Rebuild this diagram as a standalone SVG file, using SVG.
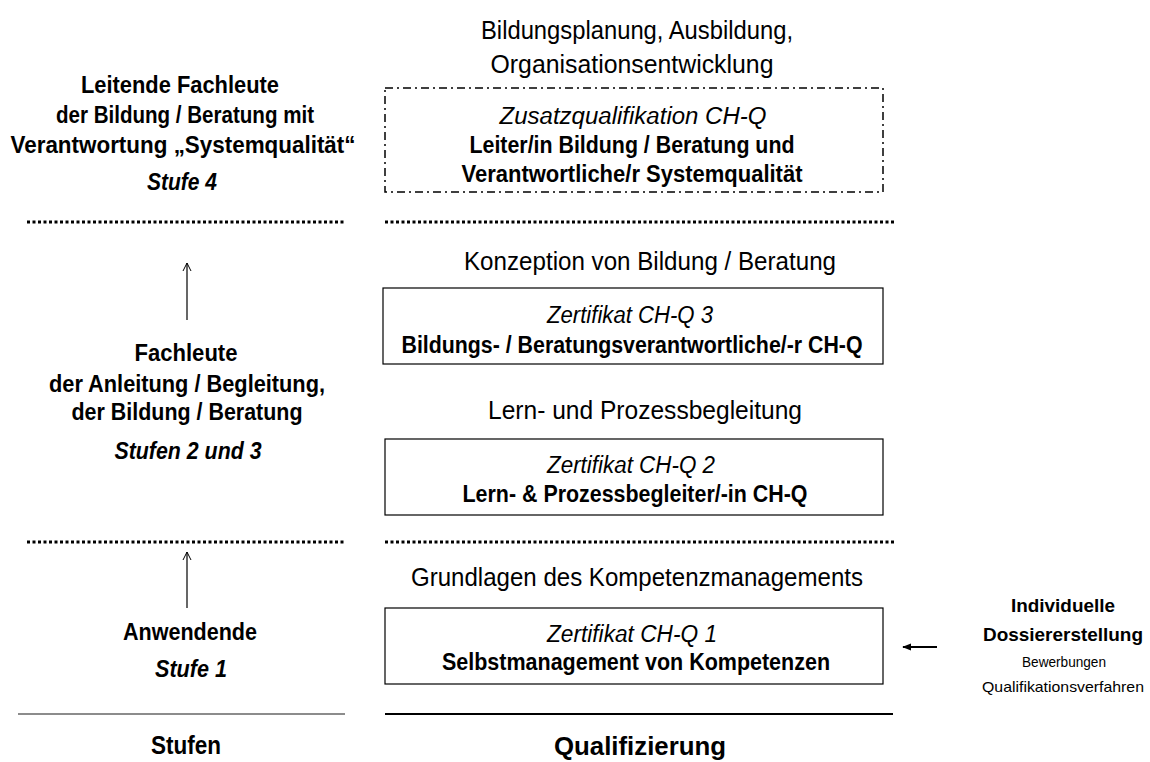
<svg xmlns="http://www.w3.org/2000/svg" width="1150" height="762" viewBox="0 0 1150 762">
<style>
text{font-family:"Liberation Sans",Arial,sans-serif;fill:#000;text-anchor:middle}
.b{font-weight:bold;font-size:23px}
.i{font-style:italic;font-size:23px}
.h{font-size:25px}
.r{font-weight:bold;font-size:19px}
.s{font-size:15px}
.box{fill:#fff;stroke:#000;stroke-width:1.2}
.dot{stroke:#000;stroke-width:3;stroke-dasharray:3 2.5;fill:none}
</style>
<defs>
<marker id="ah" viewBox="0 0 10 10" refX="9" refY="5" markerWidth="10" markerHeight="10" orient="auto" markerUnits="userSpaceOnUse">
<path d="M1 1 L9 5 L1 9" fill="none" stroke="#000" stroke-width="1"/>
</marker>
<marker id="ah2" viewBox="0 0 10 10" refX="9" refY="5" markerWidth="9" markerHeight="9" orient="auto" markerUnits="userSpaceOnUse">
<path d="M0 1 L10 5 L0 9 Z" fill="#000"/>
</marker>
</defs>
<g id="separators">
<line class="dot" x1="27" y1="222" x2="345" y2="222"/>
<line class="dot" x1="385" y1="222" x2="895" y2="222"/>
<line class="dot" x1="27" y1="542" x2="345" y2="542"/>
<line class="dot" x1="385" y1="542" x2="895" y2="542"/>
<line x1="18" y1="714" x2="345" y2="714" stroke="#666" stroke-width="1.5"/>
<line x1="385" y1="714" x2="893" y2="714" stroke="#000" stroke-width="2.2"/>
</g>
<g id="stufe4">
<text class="b" x="180" y="93" textLength="198" lengthAdjust="spacingAndGlyphs">Leitende  Fachleute</text>
<text class="b" x="185" y="123" textLength="258" lengthAdjust="spacingAndGlyphs">der Bildung / Beratung mit</text>
<text class="b" x="183" y="153" textLength="345" lengthAdjust="spacingAndGlyphs">Verantwortung „Systemqualität“</text>
<text class="b i" x="182" y="190" textLength="70" lengthAdjust="spacingAndGlyphs">Stufe 4</text>
</g>
<g id="stufe23">
<text class="b" x="186" y="361" textLength="103" lengthAdjust="spacingAndGlyphs">Fachleute</text>
<text class="b" x="187" y="392" textLength="276" lengthAdjust="spacingAndGlyphs">der Anleitung / Begleitung,</text>
<text class="b" x="187" y="420" textLength="231" lengthAdjust="spacingAndGlyphs">der Bildung / Beratung</text>
<text class="b i" x="188" y="459" textLength="147" lengthAdjust="spacingAndGlyphs">Stufen 2 und 3</text>
</g>
<g id="stufe1">
<text class="b" x="190" y="640" textLength="134" lengthAdjust="spacingAndGlyphs">Anwendende</text>
<text class="b i" x="191" y="677" textLength="72" lengthAdjust="spacingAndGlyphs">Stufe 1</text>
</g>
<g id="label-stufen"><text class="b h" x="186" y="754" textLength="70" lengthAdjust="spacingAndGlyphs">Stufen</text></g>
<g id="label-qualifizierung"><text class="b h" x="640" y="755" textLength="172" lengthAdjust="spacingAndGlyphs">Qualifizierung</text></g>
<g id="heading4">
<text class="h" x="637" y="39" textLength="312" lengthAdjust="spacingAndGlyphs">Bildungsplanung, Ausbildung,</text>
<text class="h" x="632" y="73" textLength="283" lengthAdjust="spacingAndGlyphs">Organisationsentwicklung</text>
</g>
<g id="zusatz">
<rect x="385" y="88" width="498" height="104" fill="none" stroke="#000" stroke-width="1.5" stroke-dasharray="8 4 2 4"/>
<text class="i" x="633" y="124" textLength="267" lengthAdjust="spacingAndGlyphs">Zusatzqualifikation  CH-Q</text>
<text class="b" x="632" y="153" textLength="325" lengthAdjust="spacingAndGlyphs">Leiter/in Bildung / Beratung und</text>
<text class="b" x="632" y="182" textLength="341" lengthAdjust="spacingAndGlyphs">Verantwortliche/r  Systemqualität</text>
</g>
<g id="heading3"><text class="h" x="650" y="270" textLength="372" lengthAdjust="spacingAndGlyphs">Konzeption von Bildung / Beratung</text></g>
<g id="chq3">
<rect class="box" x="383" y="288" width="500" height="76"/>
<text class="i" x="630" y="323" textLength="166" lengthAdjust="spacingAndGlyphs">Zertifikat CH-Q 3</text>
<text class="b" x="632" y="353" textLength="461" lengthAdjust="spacingAndGlyphs">Bildungs- / Beratungsverantwortliche/-r CH-Q</text>
</g>
<g id="heading2"><text class="h" x="645" y="419" textLength="314" lengthAdjust="spacingAndGlyphs">Lern- und  Prozessbegleitung</text></g>
<g id="chq2">
<rect class="box" x="385" y="439" width="498" height="76"/>
<text class="i" x="631" y="473" textLength="168" lengthAdjust="spacingAndGlyphs">Zertifikat CH-Q 2</text>
<text class="b" x="635" y="502" textLength="345" lengthAdjust="spacingAndGlyphs">Lern- &amp; Prozessbegleiter/-in CH-Q</text>
</g>
<g id="heading1"><text class="h" x="637" y="586" textLength="452" lengthAdjust="spacingAndGlyphs">Grundlagen des Kompetenzmanagements</text></g>
<g id="chq1">
<rect class="box" x="385" y="608" width="498" height="76"/>
<text class="i" x="632" y="642" textLength="170" lengthAdjust="spacingAndGlyphs">Zertifikat CH-Q 1</text>
<text class="b" x="636" y="670" textLength="388" lengthAdjust="spacingAndGlyphs">Selbstmanagement von Kompetenzen</text>
</g>
<g id="dossier">
<text class="r" x="1063" y="612" textLength="104" lengthAdjust="spacingAndGlyphs">Individuelle</text>
<text class="r" x="1063" y="641" textLength="160" lengthAdjust="spacingAndGlyphs">Dossiererstellung</text>
<text class="s" x="1064" y="667" textLength="84" lengthAdjust="spacingAndGlyphs">Bewerbungen</text>
<text class="s" x="1063" y="692" textLength="162" lengthAdjust="spacingAndGlyphs">Qualifikationsverfahren</text>
</g>
<g id="connectors">
<line x1="187" y1="320" x2="187" y2="263" stroke="#000" stroke-width="1.2" marker-end="url(#ah)"/>
<line x1="187" y1="608" x2="187" y2="552" stroke="#000" stroke-width="1.2" marker-end="url(#ah)"/>
<line x1="937" y1="647" x2="903" y2="647" stroke="#000" stroke-width="2" marker-end="url(#ah2)"/>
</g>
</svg>
